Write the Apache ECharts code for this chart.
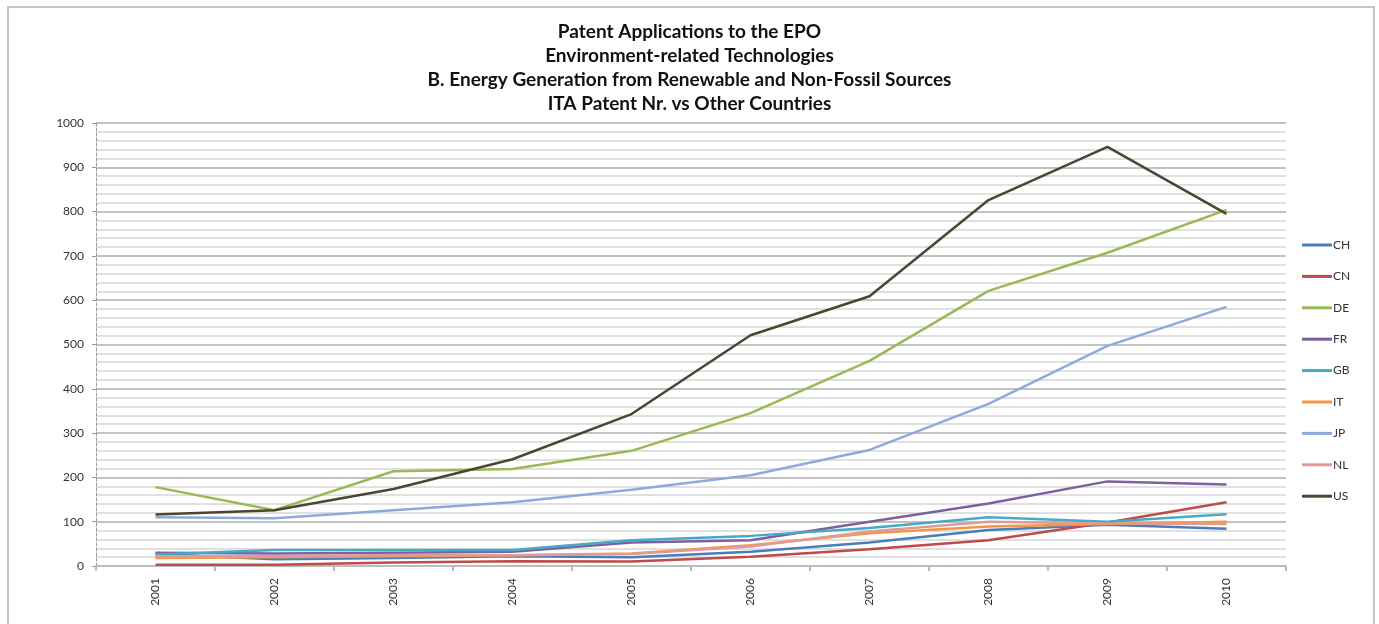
<!DOCTYPE html>
<html>
<head>
<meta charset="utf-8">
<script src="https://cdn.jsdelivr.net/npm/echarts@6/dist/echarts.min.js"></script>
<style>
  html, body { margin: 0; padding: 0; background: #fff; }
  #chart { width: 1379px; height: 624px; }
</style>
</head>
<body>
<div id="chart"></div>
<script>
// 年份
const years = ['2001', '2002', '2003', '2004', '2005', '2006', '2007', '2008', '2009', '2010'];

// 各国数据
const CH = [27, 15, 18, 22, 20, 32, 53, 81, 93, 84];
const CN = [3, 3, 8, 11, 10, 21, 38, 58, 98, 144];
const DE = [178, 126, 214, 219, 260, 345, 463, 621, 707, 804];
const FR = [30, 28, 30, 32, 53, 58, 100, 141, 191, 184];
const GB = [26, 36, 36, 36, 58, 68, 86, 110, 100, 117];
const IT = [18, 20, 22, 24, 28, 47, 74, 89, 95, 100];
const JP = [110, 108, 126, 144, 172, 205, 262, 366, 497, 585];
const NL = [22, 22, 25, 24, 27, 44, 78, 100, 96, 95];
const US = [116, 126, 174, 241, 343, 521, 609, 826, 946, 795];

const countries = ['CH', 'CN', 'DE', 'FR', 'GB', 'IT', 'JP', 'NL', 'US'];
const seriesValues = [CH, CN, DE, FR, GB, IT, JP, NL, US];
const colors = ['#4a7ebb', '#be4b48', '#98b954', '#7d60a0', '#46aac5', '#f69544', '#8eaadb', '#dd9c9a', '#4b4632'];

const titleLines = [
    'Patent Applications to the EPO',
    'Environment-related Technologies',
    'B. Energy Generation from Renewable and Non-Fossil Sources',
    'ITA Patent Nr. vs Other Countries'
];

window.addEventListener('DOMContentLoaded', function() {
    const chart = echarts.init(document.getElementById('chart'));
    const option = {
        animation: false,
        color: colors,
        title: {
            text: titleLines.join('\n'),
            left: 'center',
            top: 15,
            textStyle: {
                fontFamily: 'Lato',
                fontSize: 19,
                fontWeight: 'bold',
                color: '#111',
                lineHeight: 24
            }
        },
        graphic: [{
            type: 'rect',
            shape: { x: 8, y: 7, width: 1366, height: 640 },
            style: { fill: 'none', stroke: '#c4c4c4', lineWidth: 2 },
            silent: true
        }],
        legend: {
            orient: 'vertical',
            left: 1297,
            top: 233,
            icon: 'rect',
            itemWidth: 30,
            itemHeight: 3,
            itemGap: 17.4,
            data: countries,
            textStyle: {
                fontFamily: 'Lato',
                fontSize: 12,
                color: '#333',
                lineHeight: 14,
                padding: [0, 0, 0, -4]
            }
        },
        grid: {
            left: 96,
            right: 93,
            top: 123,
            bottom: 58
        },
        xAxis: {
            type: 'category',
            data: years,
            boundaryGap: true,
            axisLine: { lineStyle: { color: '#bcbcbc', width: 2 } },
            axisTick: { show: true, length: 5, lineStyle: { color: '#bcbcbc', width: 2 } },
            axisLabel: {
                rotate: 90,
                margin: 12,
                fontFamily: 'Lato',
                fontSize: 12,
                color: '#333'
            },
            splitLine: { show: false }
        },
        yAxis: {
            type: 'value',
            min: 0,
            max: 1000,
            interval: 100,
            axisLine: { show: true, lineStyle: { color: '#999', width: 1, type: [3, 2] } },
            axisTick: { show: true, length: 4, lineStyle: { color: '#999' } },
            axisLabel: {
                margin: 12,
                fontFamily: 'Lato',
                fontSize: 12,
                color: '#333',
                formatter: function(v) { return String(v); }
            },
            splitLine: { show: true, lineStyle: { color: '#c2c2c2', width: 2 } },
            minorTick: { show: false, splitNumber: 5 },
            minorSplitLine: { show: true, lineStyle: { color: '#e0e0e0', width: 2 } }
        },
        series: countries.map(function(name, i) {
            return {
                name: name,
                type: 'line',
                data: seriesValues[i],
                showSymbol: false,
                symbol: 'none',
                lineStyle: { width: 2.5, color: colors[i] },
                itemStyle: { color: colors[i] }
            };
        })
    };
    chart.setOption(option);
});
</script>
</body>
</html>
